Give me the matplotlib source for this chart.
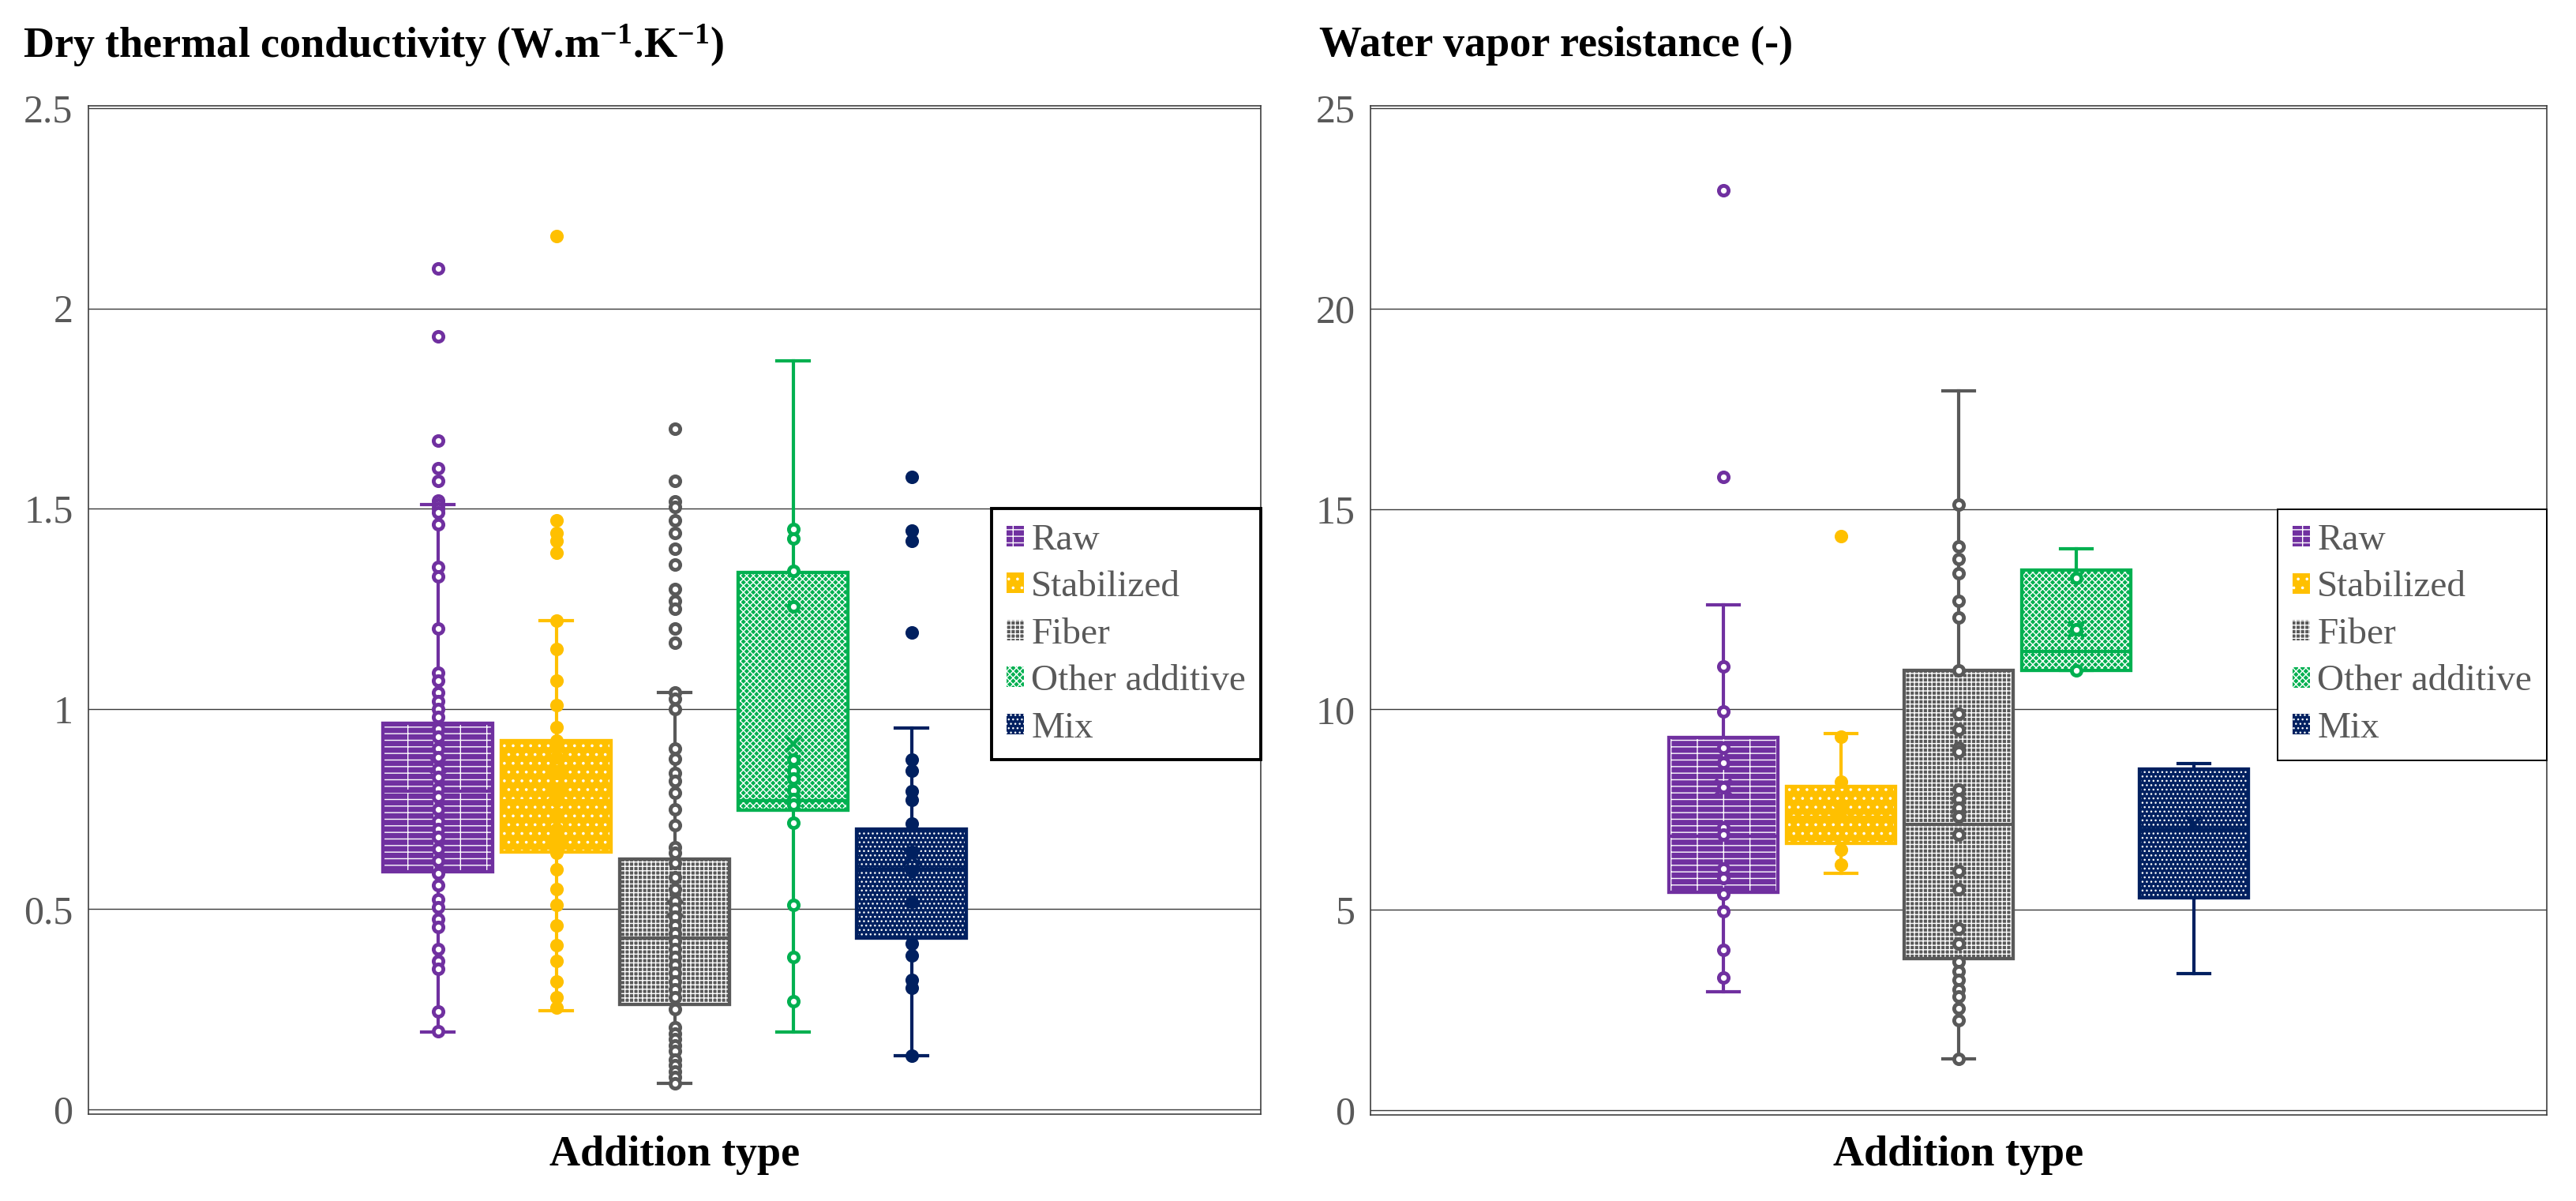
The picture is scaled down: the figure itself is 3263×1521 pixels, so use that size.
import matplotlib
matplotlib.use("Agg")
import matplotlib.pyplot as plt
from matplotlib.patches import Patch, PathPatch

# ---------------- data ----------------
categories = ["Raw", "Stabilized", "Fiber", "Other additive", "Mix"]
colors = ["#7030A0", "#FFC000", "#595959", "#00B050", "#002060"]
marker_faces = ["white", "#FFC000", "white", "white", "#002060"]
hatches = ["----|", "...", "++++++", "xxxxxxxx", "......"]

# Dry thermal conductivity (W.m-1.K-1)
tc_q1 = [0.593, 0.642, 0.262, 0.747, 0.427]
tc_med = [0.794, 0.770, 0.427, 0.770, 0.600]
tc_q3 = [0.964, 0.921, 0.625, 1.340, 0.700]
tc_lo = [0.194, 0.246, 0.065, 0.194, 0.134]
tc_hi = [1.510, 1.220, 1.040, 1.870, 0.952]
tc_mean = [0.860, 0.790, 0.500, 0.913, 0.630]

tc_raw = [2.10, 1.93, 1.67, 1.60, 1.57, 1.52, 1.51, 1.50, 1.49, 1.46, 1.355, 1.33,
          1.20, 1.09, 1.07, 1.04, 1.02, 1.00, 0.98, 0.95, 0.93, 0.90, 0.88, 0.85,
          0.83, 0.80, 0.78, 0.75, 0.72, 0.70, 0.68, 0.65, 0.62, 0.59, 0.56, 0.525,
          0.505, 0.475, 0.455, 0.40, 0.37, 0.35, 0.245, 0.195]
tc_stabilized = [2.18, 1.47, 1.44, 1.42, 1.39, 1.22, 1.15, 1.07, 1.01, 0.955, 0.92,
                 0.88, 0.84, 0.80, 0.77, 0.74, 0.70, 0.67, 0.64, 0.60, 0.55, 0.51,
                 0.46, 0.41, 0.37, 0.32, 0.28, 0.254]
tc_fiber = [1.70, 1.57, 1.518, 1.505, 1.47, 1.44, 1.40, 1.36, 1.30, 1.27, 1.25, 1.20,
            1.165, 1.04, 1.025, 1.00, 0.90, 0.875, 0.84, 0.82, 0.79, 0.75, 0.71,
            0.655, 0.64, 0.615, 0.58, 0.55, 0.52, 0.50, 0.48, 0.46, 0.44, 0.42, 0.40,
            0.38, 0.36, 0.34, 0.32, 0.30, 0.28, 0.25, 0.205, 0.19, 0.175, 0.16, 0.145,
            0.125, 0.11, 0.095, 0.08, 0.065]
tc_other = [1.45, 1.425, 1.344, 1.255, 0.873, 0.846, 0.826, 0.797, 0.775, 0.761,
            0.715, 0.51, 0.38, 0.27]
tc_mix = [1.58, 1.445, 1.42, 1.19, 0.873, 0.846, 0.794, 0.773, 0.713, 0.642, 0.596,
          0.518, 0.413, 0.384, 0.324, 0.304, 0.134]

tc_ticks = [0, 0.5, 1, 1.5, 2, 2.5]
tc_ticklabels = ["0", "0.5", "1", "1.5", "2", "2.5"]

# Water vapor resistance (-)
wv_q1 = [5.43, 6.65, 3.78, 10.98, 5.30]
wv_med = [6.83, 7.30, 7.13, 11.45, 7.00]
wv_q3 = [9.29, 8.07, 10.98, 13.47, 8.50]
wv_lo = [2.95, 5.91, 1.28, 10.97, 3.40]
wv_hi = [12.60, 9.39, 17.94, 14.00, 8.64]
wv_mean = [8.05, 7.44, 7.60, 12.00, 7.14]

wv_raw = [22.96, 15.79, 11.08, 9.94, 9.04, 8.66, 8.05, 7.05, 6.87, 6.02, 5.79, 5.39,
          4.96, 4.00, 3.31]
wv_stabilized = [14.33, 9.31, 8.19, 7.50, 6.50, 6.12]
wv_fiber = [15.11, 14.07, 13.76, 13.39, 12.70, 12.30, 10.98, 9.88, 9.50, 9.05, 8.94,
            8.00, 7.77, 7.54, 7.32, 6.87, 5.97, 5.51, 4.53, 4.15, 3.70, 3.46, 3.24,
            3.02, 2.84, 2.54, 2.24, 1.28]
wv_other = [13.27, 11.99, 10.97]
wv_mix = []

wv_ticks = [0, 5, 10, 15, 20, 25]
wv_ticklabels = ["0", "5", "10", "15", "20", "25"]

# ---------------- style ----------------
plt.rcParams["font.family"] = ["Liberation Serif", "DejaVu Serif"]
plt.rcParams["mathtext.fontset"] = "custom"
plt.rcParams["mathtext.rm"] = "Liberation Serif"
plt.rcParams["mathtext.bf"] = "Liberation Serif:bold"
plt.rcParams["mathtext.it"] = "Liberation Serif:italic"
plt.rcParams["hatch.linewidth"] = 0.5

W, H, DPI = 3263, 1521, 200
fig = plt.figure(figsize=(W / DPI, H / DPI), dpi=DPI)

GRAY_TXT = "#595959"
LW = 1.5


def draw_panel(ax, q1, med, q3, lo, hi, mean, points, ticks, ticklabels, ylim,
               xlim, legend_lw, legend_y):
    for i, c in enumerate(categories):
        stats = [dict(q1=q1[i], med=med[i], q3=q3[i], whislo=lo[i], whishi=hi[i],
                      mean=mean[i], fliers=[], label=c)]
        b = ax.bxp(stats, positions=[i], widths=0.93, capwidths=0.27,
                   patch_artist=True, showmeans=True, showfliers=False,
                   manage_ticks=False,
                   boxprops=dict(facecolor=colors[i], edgecolor=colors[i], lw=LW),
                   whiskerprops=dict(color=colors[i], lw=LW),
                   capprops=dict(color=colors[i], lw=LW),
                   medianprops=dict(color=colors[i], lw=LW, zorder=2.7),
                   meanprops=dict(marker="x", markeredgecolor=colors[i],
                                  markersize=7, markeredgewidth=1.6, zorder=2.8))
        box = b["boxes"][0]
        ax.add_patch(PathPatch(box.get_path(), transform=box.get_transform(),
                               fill=False, hatch=hatches[i], edgecolor="white",
                               lw=0, zorder=2.5))
        ax.add_patch(PathPatch(box.get_path(), transform=box.get_transform(),
                               fill=False, edgecolor=colors[i], lw=LW, zorder=2.6))
        pts = points[i]
        ax.plot([i] * len(pts), pts, ls="none", marker="o", ms=4.4,
                mfc=marker_faces[i], mec=colors[i], mew=1.75, zorder=3)

    ax.set_xlim(*xlim)
    ax.set_ylim(*ylim)
    ax.set_yticks(ticks)
    ax.set_yticklabels(ticklabels, fontsize=18, color=GRAY_TXT)
    ax.set_xticks([])
    ax.tick_params(axis="y", length=0, pad=7)
    ax.yaxis.grid(True, color="#3a3a3a", lw=0.5)
    ax.set_axisbelow(True)
    for sp in ax.spines.values():
        sp.set_color("#404040")
        sp.set_linewidth(0.6)

    handles = [(Patch(facecolor=colors[i], edgecolor=colors[i], lw=0),
                Patch(facecolor="none", edgecolor="white", hatch=hatches[i], lw=0))
               for i in range(len(categories))]
    leg = ax.legend(handles, categories, loc="upper right",
                    bbox_to_anchor=(1.0, legend_y),
                    bbox_transform=ax.get_yaxis_transform(),
                    borderaxespad=0, fontsize=17, labelcolor=GRAY_TXT,
                    handlelength=0.47, handleheight=0.47, handletextpad=0.2,
                    labelspacing=0.36, borderpad=0.4, fancybox=False,
                    framealpha=1, edgecolor="black")
    leg.get_frame().set_linewidth(legend_lw)
    pos = ax.get_position()
    fig.text((pos.x0 + pos.x1) / 2, 1 - 1463 / H, "Addition type", fontsize=19.5,
             fontweight="bold", ha="center", va="center")


ax1 = fig.add_axes([112 / W, 1 - 1411 / H, 1485 / W, (1411 - 134) / H])
draw_panel(ax1, tc_q1, tc_med, tc_q3, tc_lo, tc_hi, tc_mean,
           [tc_raw, tc_stabilized, tc_fiber, tc_other, tc_mix],
           tc_ticks, tc_ticklabels, (-0.012, 2.506), (2 - 4.95, 2 + 4.95), 1.4, 1.5)

ax2 = fig.add_axes([1736 / W, 1 - 1412 / H, 1490 / W, (1412 - 134) / H])
draw_panel(ax2, wv_q1, wv_med, wv_q3, wv_lo, wv_hi, wv_mean,
           [wv_raw, wv_stabilized, wv_fiber, wv_other, wv_mix],
           wv_ticks, wv_ticklabels, (-0.12, 25.06), (-3, 7), 0.7, 15)

fig.text(29 / W, 1 - 58 / H,
         "Dry thermal conductivity (W.m$^{\\mathbf{-1}}$.K$^{\\mathbf{-1}}$)",
         fontsize=19.5, fontweight="bold", va="center", ha="left")
fig.text(1671 / W, 1 - 58 / H, "Water vapor resistance (-)",
         fontsize=19.5, fontweight="bold", va="center", ha="left")

fig.savefig("out.png", dpi=DPI)
